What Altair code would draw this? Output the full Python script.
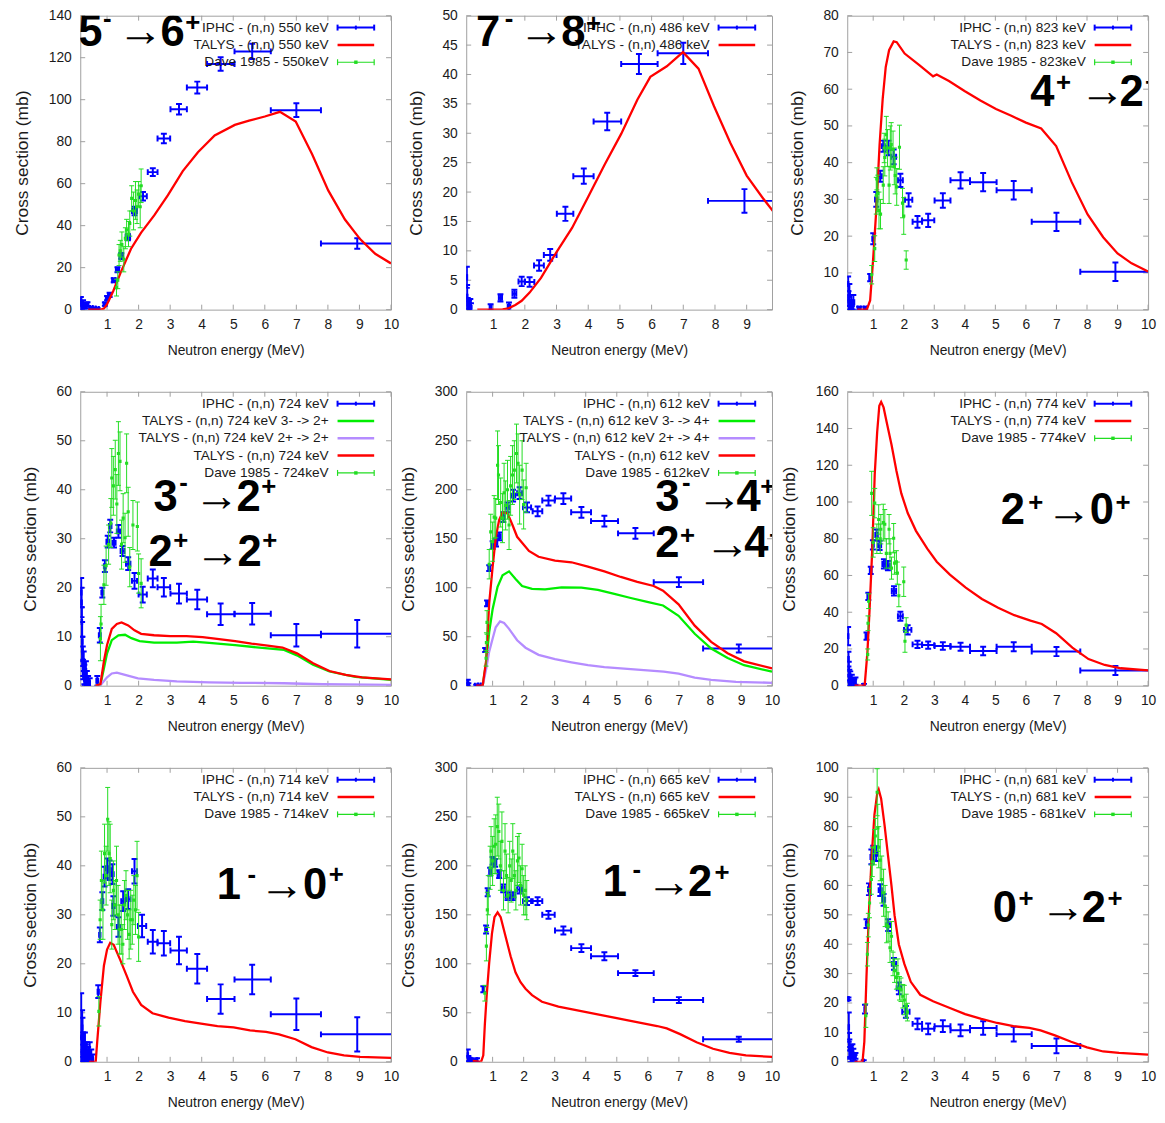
import altair as alt
import pandas as pd

FONT = "Liberation Sans"
BLUE = "#0000ff"
RED = "#ff0000"
GREEN = "#00ee00"
DGREEN = "#22dd22"
PURPLE = "#b58cff"
BORDER = "#a0a0a0"
TXT = "#1a1a1a"

# ---------------- common wide IPHC energy bins ----------------
HI_X = [2.45, 2.8, 3.28, 3.86, 4.6, 5.6, 7.0, 8.93]
HI_LO = [2.29, 2.6, 3.01, 3.53, 4.17, 5.04, 6.19, 7.78]
HI_HI = [2.6, 3.0, 3.53, 4.17, 5.04, 6.19, 7.78, 10.3]

# ---------------- Panel 1 : 550 keV ----------------
P1_LO_X = [0.17, 0.2, 0.24, 0.28, 0.33, 0.38, 0.5, 0.6, 0.7, 0.93, 1.0, 1.08, 1.21, 1.33, 1.45, 1.66, 1.87, 2.14]
P1_LO_Y = [4, 1.5, 3, 2, 1.5, 2.5, 0.8, 0.5, 0.3, 2.6, 5.5, 7, 14, 19, 25.5, 34.5, 47, 54]
P1_LO_XE = [0.02, 0.02, 0.02, 0.02, 0.02, 0.03, 0.04, 0.04, 0.04, 0.04, 0.04, 0.05, 0.05, 0.05, 0.06, 0.07, 0.08, 0.12]
P1_LO_YE = [2, 1.5, 1.5, 1.2, 1, 1, 0.5, 0.5, 0.5, 0.8, 1, 1, 1, 1.2, 1.5, 1.5, 2, 2]
P1_HI_Y = [65.5, 81.5, 95.4, 105.8, 117, 123, 95, 31.5]
P1_HI_YE = [1.8, 2.3, 2.5, 2.8, 3.2, 3.6, 3.3, 2.5]
P1_D_X = [1.3, 1.34, 1.38, 1.42, 1.47, 1.53, 1.58, 1.62, 1.68, 1.72, 1.78, 1.84, 1.9, 1.95, 2.0, 2.05, 2.08]
P1_D_Y = [10.5, 14, 26, 28, 31, 24, 34, 38, 36, 41, 53, 47, 52, 49, 55, 49, 59]
P1_D_E = [4, 4, 5, 5, 6, 6, 5, 5, 6, 6, 6, 9, 9, 8, 6, 10, 8]
P1_T_X = [0.4, 0.6, 0.8, 0.9, 1.0, 1.2, 1.44, 1.76, 2.08, 2.5, 2.93, 3.4, 3.88, 4.41, 5.05, 5.5, 6.0, 6.48, 6.98, 7.5, 8.01, 8.54, 9.02, 9.5, 10.0]
P1_T_Y = [0, 0, 0, 0.5, 2.6, 9, 18, 29, 36.7, 45, 54.5, 66, 75, 83, 88, 90, 92, 94.2, 89.6, 74, 56.8, 42.9, 33.6, 26.6, 22]

# ---------------- Panel 2 : 486 keV ----------------
P2_LO_X = [0.17, 0.18, 0.2, 0.24, 0.28, 0.3, 0.92, 1.23, 1.5, 1.67, 1.9, 2.15]
P2_LO_Y = [5.5, 2.2, 1, 0.5, 0.8, 0.3, 0.4, 2, 0.5, 2.7, 4.8, 4.7]
P2_LO_XE = [0.01, 0.01, 0.02, 0.02, 0.02, 0.02, 0.03, 0.05, 0.04, 0.06, 0.1, 0.15]
P2_LO_YE = [1.8, 2, 1, 1, 1, 0.8, 0.5, 0.6, 0.7, 0.7, 0.8, 0.8]
P2_HI_Y = [7.5, 9.3, 16.3, 22.7, 32, 41.8, 43.6, 18.5]
P2_HI_YE = [0.9, 1.0, 1.2, 1.3, 1.5, 1.7, 1.8, 2.0]
P2_T_X = [0.5, 1.0, 1.3, 1.48, 1.7, 1.9, 2.15, 2.51, 3.0, 3.49, 4.0, 4.52, 5.04, 5.55, 5.96, 6.48, 6.99, 7.48, 7.97, 8.49, 9.0, 9.52, 10.0]
P2_T_Y = [0, 0, 0.05, 0.2, 0.8, 1.5, 2.9, 5.4, 9.8, 13.9, 19.2, 24.7, 29.9, 35.7, 39.6, 41.4, 43.8, 41, 34.6, 28.3, 22.8, 18.9, 15.6]

# ---------------- Panel 3 : 823 keV ----------------
P3_LO_X = [0.18, 0.19, 0.2, 0.22, 0.25, 0.28, 0.3, 0.35, 0.54, 0.74, 0.9, 1.0, 1.1, 1.23, 1.33, 1.5, 1.67, 1.89, 2.16]
P3_LO_Y = [7, 3, 2, 4, 1, 2, 0.5, 2, 0.3, 0.3, 8.7, 19.3, 30, 36.3, 44.5, 44, 41.6, 35.2, 29.9]
P3_LO_XE = [0.01, 0.01, 0.01, 0.02, 0.02, 0.02, 0.02, 0.03, 0.05, 0.05, 0.03, 0.03, 0.04, 0.05, 0.05, 0.07, 0.08, 0.08, 0.12]
P3_LO_YE = [2, 2, 2, 3, 1, 2, 0.5, 2, 0.5, 0.5, 1, 1.5, 2, 1.5, 1.5, 2, 2, 1.8, 1.8]
P3_HI_Y = [23.9, 24.3, 29.7, 35.2, 34.7, 32.5, 23.9, 10.3]
P3_HI_YE = [1.6, 1.8, 2, 2.2, 2.5, 2.5, 2.5, 2.5]
P3_D_X = [0.95, 1.05, 1.1, 1.12, 1.15, 1.19, 1.24, 1.33, 1.36, 1.38, 1.43, 1.47, 1.52, 1.56, 1.59, 1.65, 1.69, 1.72, 1.77, 1.86, 1.96, 2.0, 2.08]
P3_D_Y = [9.5, 16.6, 31, 35.6, 31.6, 27, 26, 33.9, 44, 41.4, 47.6, 44, 33.9, 44, 44.9, 43.6, 39, 36.5, 33.4, 44.2, 29, 25.5, 13.5]
P3_D_E = [2.5, 3.5, 5, 3, 5, 5, 4, 5, 4, 5, 5, 5, 5, 6, 6, 5, 5, 5, 5, 6, 4, 5, 2.5]
P3_T_X = [0.48, 0.79, 0.9, 1.0, 1.1, 1.21, 1.31, 1.41, 1.52, 1.67, 1.77, 2.03, 2.5, 2.96, 3.08, 3.48, 3.99, 4.51, 5.02, 5.54, 6.0, 6.5, 6.99, 7.5, 8.02, 8.53, 9.0, 9.46, 10.0]
P3_T_Y = [0, 0, 2.5, 14, 27, 45, 57.3, 66, 70.6, 73, 72.8, 69.7, 66.6, 63.5, 64, 62.2, 59.5, 56.9, 54.6, 52.7, 50.9, 49.3, 44.5, 34.7, 25.9, 19.7, 15.3, 12.6, 10.4]

# ---------------- Panel 4 : 724 keV ----------------
P4_LO_X = [0.18, 0.19, 0.2, 0.21, 0.22, 0.23, 0.24, 0.26, 0.28, 0.3, 0.33, 0.36, 0.4, 0.45, 0.69, 0.77, 0.85, 0.93, 1.02, 1.1, 1.22, 1.36, 1.49, 1.67, 1.87, 2.13]
P4_LO_Y = [19, 17, 13, 9, 7, 5, 3.3, 5, 2.3, 1, 3, 1.5, 1, 0.5, 1, 10.3, 19, 24.4, 29.4, 32.6, 29.2, 31.5, 27.5, 24.9, 21.4, 18.6]
P4_LO_XE = [0.01, 0.01, 0.01, 0.01, 0.01, 0.01, 0.01, 0.01, 0.01, 0.01, 0.01, 0.01, 0.01, 0.01, 0.03, 0.03, 0.03, 0.03, 0.04, 0.04, 0.05, 0.05, 0.06, 0.07, 0.08, 0.13]
P4_LO_YE = [3, 3, 3, 4, 3, 3, 2, 2, 2, 1, 2, 1.5, 1, 1, 1, 1.5, 1, 1.2, 1.2, 1.3, 1, 1.3, 1, 1.3, 1.6, 1.6]
P4_HI_Y = [21.9, 20.1, 18.8, 17.6, 14.6, 14.7, 10.3, 10.6]
P4_HI_YE = [1.8, 1.9, 2, 2, 2.2, 2.2, 2.3, 2.8]
P4_D_X = [0.79, 0.81, 0.9, 0.97, 1.05, 1.12, 1.15, 1.2, 1.26, 1.31, 1.36, 1.41, 1.46, 1.51, 1.57, 1.62, 1.67, 1.72, 1.82, 1.96, 2.0, 2.08]
P4_D_Y = [9.6, 12.6, 20.6, 24.5, 28.8, 33.2, 42.4, 40.8, 44.1, 37.1, 47.4, 45.8, 28.8, 34.2, 30.2, 45.4, 35.5, 24.2, 32.8, 32.5, 22.9, 20.9]
P4_D_E = [4.5, 4, 4, 4, 4, 5, 6, 6, 6, 6, 6.5, 6, 5, 5, 5, 6, 5, 4, 5, 5, 4, 5]
P4_T_X = [0.64, 0.79, 0.9, 1.0, 1.15, 1.31, 1.46, 1.67, 1.87, 2.08, 2.49, 3.0, 3.52, 4.03, 4.55, 5.06, 5.58, 6.09, 6.56, 7.02, 7.53, 8.05, 8.56, 9.08, 10.0]
P4_T_Y = [0, 0.3, 5, 8.3, 11.6, 12.6, 12.9, 12.3, 11.3, 10.6, 10.3, 10.1, 10.1, 9.9, 9.5, 9.1, 8.6, 8.2, 7.8, 6.6, 4.6, 3.0, 2.2, 1.7, 1.3]
P4_G_X = [0.64, 0.79, 0.9, 1.0, 1.15, 1.36, 1.57, 1.77, 2.03, 2.49, 3.21, 3.73, 4.24, 5.06, 6.09, 6.61, 7.02, 7.53, 8.05, 8.87, 10.0]
P4_G_Y = [0, 0.2, 3.5, 6.6, 9.3, 10.3, 10.4, 9.7, 9.1, 8.8, 8.8, 9.0, 8.75, 8.3, 7.6, 7.3, 6.2, 4.3, 2.9, 1.8, 1.2]
P4_P_X = [0.64, 0.79, 1.0, 1.15, 1.31, 1.57, 1.98, 2.49, 3.21, 4.24, 5.27, 6.61, 7.84, 10.0]
P4_P_Y = [0, 0.1, 1.7, 2.5, 2.65, 2.2, 1.5, 1.2, 0.9, 0.7, 0.6, 0.5, 0.3, 0.15]

# ---------------- Panel 5 : 612 keV ----------------
P5_LO_X = [0.2, 0.22, 0.47, 0.58, 0.76, 0.82, 0.89, 1.0, 1.11, 1.21, 1.34, 1.48, 1.66, 1.87, 2.11]
P5_LO_Y = [3, 0.5, 0, 0.3, 36.5, 84, 120, 143.5, 146, 152.5, 172, 182, 194, 196.5, 182]
P5_LO_XE = [0.02, 0.02, 0.04, 0.04, 0.03, 0.03, 0.03, 0.04, 0.04, 0.05, 0.05, 0.06, 0.07, 0.08, 0.13]
P5_LO_YE = [3, 2, 1, 1, 2, 3, 3, 4, 4, 4, 5, 5, 6, 6, 5]
P5_HI_Y = [178, 189, 191, 177, 168, 155.5, 105.7, 38]
P5_HI_YE = [5, 5, 5.5, 5.5, 5.5, 5.5, 5, 4]
P5_D_X = [0.79, 0.8, 0.82, 0.89, 0.94, 1.0, 1.05, 1.1, 1.16, 1.19, 1.26, 1.32, 1.37, 1.42, 1.48, 1.53, 1.58, 1.64, 1.7, 1.77, 1.82, 1.87, 1.95, 2.0, 2.08]
P5_D_Y = [28, 44, 64.6, 124, 157, 147, 172, 171, 225, 215, 187, 171, 197, 184, 200, 164, 204, 215, 220, 237, 227, 195, 220, 185, 202]
P5_D_E = [8, 10, 12, 15, 18, 20, 22, 20, 35, 30, 25, 25, 30, 25, 30, 25, 30, 30, 30, 30, 30, 30, 30, 25, 25]
P5_T_X = [0.47, 0.68, 0.79, 0.89, 1.0, 1.1, 1.21, 1.32, 1.48, 1.64, 1.79, 1.95, 2.17, 2.48, 3.01, 3.54, 4.07, 4.6, 5.13, 5.66, 6.19, 6.49, 6.99, 7.51, 8.04, 8.57, 9.1, 10.0]
P5_T_Y = [0, 0, 25, 84, 121, 151, 169, 177, 176, 164, 152, 146, 137.5, 131.6, 127.6, 126, 121.6, 116.7, 111, 106, 101.8, 97, 83, 61.3, 44.7, 33.1, 24.9, 17.6]
P5_G_X = [0.68, 0.79, 0.89, 1.0, 1.16, 1.32, 1.53, 1.74, 1.95, 2.27, 2.69, 3.22, 3.86, 4.39, 4.92, 5.45, 5.98, 6.49, 6.99, 7.51, 8.04, 8.57, 9.1, 10.0]
P5_G_Y = [0, 23, 54.7, 78, 101, 112.7, 116.7, 109, 101.8, 98.8, 98.4, 100.4, 100, 97.8, 93.8, 89.5, 85.5, 81.9, 71.3, 53, 38, 28.2, 20.9, 14.3]
P5_P_X = [0.68, 0.79, 0.89, 1.0, 1.1, 1.24, 1.37, 1.53, 1.79, 2.06, 2.48, 3.01, 3.54, 4.07, 4.6, 5.13, 5.98, 6.51, 6.99, 7.51, 8.04, 8.84, 10.0]
P5_P_Y = [0, 16.6, 34.8, 48, 59.7, 65.6, 64, 58, 46.4, 38.8, 31.5, 27.2, 23.9, 20.9, 18.9, 17.6, 15.6, 14.3, 12.3, 8.3, 6, 4, 3]

# ---------------- Panel 6 : 774 keV ----------------
P6_LO_X = [0.18, 0.19, 0.2, 0.21, 0.22, 0.23, 0.25, 0.28, 0.3, 0.38, 0.42, 0.7, 0.78, 0.84, 0.92, 0.99, 1.11, 1.21, 1.35, 1.48, 1.68, 1.89, 2.13]
P6_LO_Y = [27, 14.5, 9, 3, 5.7, 1, 4.8, 2, 3, 1.5, 2.5, 0, 27, 48.6, 62.8, 76.7, 82, 76.4, 66.3, 65.4, 51.6, 37.8, 30.4]
P6_LO_XE = [0.01, 0.01, 0.01, 0.01, 0.01, 0.01, 0.01, 0.01, 0.01, 0.01, 0.01, 0.03, 0.03, 0.03, 0.03, 0.03, 0.04, 0.05, 0.05, 0.06, 0.07, 0.08, 0.12]
P6_LO_YE = [5, 4, 4, 3, 3, 2, 3, 2, 3, 2, 2, 1, 2, 2, 2, 2.5, 3, 2.5, 2.5, 2.5, 2.5, 2.5, 2.5]
P6_HI_Y = [22.5, 22.1, 21.6, 21.2, 18.9, 21.2, 18.6, 8.3]
P6_HI_YE = [2, 2, 2, 2.2, 2.3, 2.5, 2.5, 2.5]
P6_D_X = [0.82, 0.83, 0.85, 0.95, 1.0, 1.05, 1.12, 1.18, 1.23, 1.25, 1.33, 1.38, 1.43, 1.52, 1.55, 1.6, 1.67, 1.7, 1.76, 1.79, 1.84, 2.0, 2.04, 2.08]
P6_D_Y = [17, 34, 46, 104.7, 78, 99.4, 80, 90.5, 80, 85.2, 88.8, 87.9, 72, 85.2, 72, 64, 80.3, 66.7, 67.5, 61.3, 49, 56.6, 24.2, 33]
P6_D_E = [3, 4, 4, 12, 8, 8, 8, 8, 8, 8, 10, 8, 8, 8, 8, 6, 8, 6, 6, 6, 6, 8, 6, 4]
P6_T_X = [0.39, 0.65, 0.72, 0.81, 0.88, 0.97, 1.05, 1.13, 1.2, 1.26, 1.34, 1.44, 1.6, 1.76, 1.92, 2.13, 2.4, 2.77, 3.08, 3.51, 4.03, 4.56, 5.09, 5.62, 6.15, 6.52, 6.99, 7.52, 8.05, 8.58, 9.11, 10.0]
P6_T_Y = [0, 0, 0, 18, 41, 74.6, 115, 138, 152.4, 154.5, 151.5, 143.6, 131.2, 117, 104.7, 94, 84.3, 74.6, 67.5, 60.5, 53.4, 47.2, 42.4, 38.4, 35.4, 33.6, 28.6, 20.7, 14.5, 11.3, 9.5, 8.3]

# ---------------- Panel 7 : 714 keV ----------------
P7_LO_X = [0.18, 0.2, 0.21, 0.22, 0.23, 0.25, 0.27, 0.3, 0.33, 0.36, 0.4, 0.45, 0.5, 0.55, 0.72, 0.77, 0.85, 0.92, 1.0, 1.08, 1.17, 1.2, 1.36, 1.51, 1.67, 1.87, 2.11]
P7_LO_Y = [5, 2, 7, 5, 3, 4, 2, 3, 1.5, 2, 1, 2, 1, 0.5, 14.3, 25.9, 32.8, 37.8, 39.5, 39.1, 38.3, 31.8, 27.5, 32.8, 33.2, 38.9, 27.7]
P7_LO_XE = [0.01, 0.01, 0.01, 0.01, 0.01, 0.01, 0.01, 0.01, 0.01, 0.01, 0.01, 0.01, 0.01, 0.01, 0.02, 0.02, 0.03, 0.03, 0.04, 0.04, 0.04, 0.04, 0.05, 0.06, 0.07, 0.08, 0.13]
P7_LO_YE = [9, 3, 3.5, 4, 3, 2, 2, 3, 2, 2, 2, 2, 1.5, 1, 1.3, 1.5, 1.8, 2, 2, 2, 2, 2, 2, 2, 2, 2.5, 2.3]
P7_HI_Y = [24.5, 24.2, 22.7, 19, 12.8, 16.8, 9.7, 5.6]
P7_HI_YE = [2.4, 2.5, 2.8, 3, 3, 3, 3.2, 3.5]
P7_D_X = [0.74, 0.78, 0.82, 0.87, 0.92, 0.97, 1.02, 1.06, 1.1, 1.15, 1.2, 1.25, 1.3, 1.35, 1.4, 1.45, 1.5, 1.55, 1.6, 1.65, 1.7, 1.75, 1.8, 1.85, 1.9, 1.95, 2.0]
P7_D_Y = [10.3, 29, 37, 31, 42.5, 38, 49.5, 42.5, 41.5, 28, 35, 32, 37, 30, 27, 27, 24, 32, 34, 30, 26, 29, 29, 33, 31, 38, 25.5]
P7_D_E = [3, 4, 6, 6, 6, 6, 6.5, 6.5, 7, 5, 6, 5, 7, 6, 5, 5, 4, 5, 5, 5, 5, 6, 5, 5, 5, 7, 5]
P7_T_X = [0.43, 0.64, 0.69, 0.79, 0.9, 1.0, 1.1, 1.21, 1.41, 1.62, 1.82, 2.08, 2.44, 2.95, 3.47, 3.98, 4.5, 5.01, 5.53, 6.04, 6.45, 6.97, 7.48, 8.0, 8.51, 9.02, 10.0]
P7_T_Y = [0, 0, 4.3, 12.3, 19.6, 22.9, 24.3, 23.9, 20.9, 17.6, 14.3, 11.6, 9.9, 9.0, 8.3, 7.8, 7.3, 7.0, 6.4, 6.1, 5.6, 4.6, 3.0, 1.9, 1.3, 1.0, 0.8]

# ---------------- Panel 8 : 665 keV ----------------
P8_LO_X = [0.2, 0.22, 0.25, 0.3, 0.36, 0.44, 0.5, 0.7, 0.79, 0.84, 0.92, 1.0, 1.08, 1.21, 1.34, 1.48, 1.66, 1.87, 2.11]
P8_LO_Y = [6.6, 3, 2, 1.7, 1, 0, 1.7, 74, 135, 173, 194, 205, 203, 191.6, 177, 169, 169, 175.7, 164]
P8_LO_XE = [0.01, 0.01, 0.01, 0.01, 0.01, 0.01, 0.01, 0.02, 0.03, 0.03, 0.03, 0.04, 0.04, 0.05, 0.05, 0.06, 0.07, 0.08, 0.13]
P8_LO_YE = [6, 3, 2, 2, 1, 1, 2, 3, 4, 4, 4, 4, 4, 4, 4, 4, 4, 4, 4]
P8_HI_Y = [164, 150, 134, 116, 107.7, 90.5, 63, 23]
P8_HI_YE = [4, 4, 4, 4, 4, 3, 3, 2.5]
P8_D_X = [0.75, 0.8, 0.83, 0.86, 0.92, 0.95, 1.0, 1.05, 1.1, 1.15, 1.2, 1.25, 1.3, 1.35, 1.4, 1.45, 1.5, 1.55, 1.6, 1.65, 1.7, 1.75, 1.8, 1.85, 1.9, 1.95, 2.0, 2.05, 2.1]
P8_D_Y = [70, 118, 155, 170, 198, 215, 205, 220, 222, 240, 235, 200, 225, 175, 215, 190, 170, 200, 185, 215, 190, 175, 205, 208, 180, 197, 170, 175, 165]
P8_D_E = [8, 15, 18, 20, 22, 25, 25, 28, 30, 30, 28, 25, 30, 20, 28, 22, 18, 25, 22, 28, 22, 20, 25, 25, 20, 25, 20, 25, 20]
P8_T_X = [0.36, 0.63, 0.7, 0.75, 0.81, 0.89, 0.98, 1.06, 1.16, 1.26, 1.42, 1.58, 1.74, 1.9, 2.06, 2.27, 2.59, 3.12, 3.65, 4.18, 4.71, 5.24, 5.77, 6.3, 6.61, 7.04, 7.57, 8.1, 8.63, 9.16, 10.0]
P8_T_Y = [1, 0, 6.6, 38, 68, 101, 131, 147.5, 152.5, 147.5, 127.6, 107.7, 91, 81.2, 74.6, 68, 61.3, 56.3, 53, 49.7, 46.4, 43.1, 39.8, 36.5, 34.1, 28.2, 19.9, 13.3, 9, 6.6, 5]

# ---------------- Panel 9 : 681 keV ----------------
P9_LO_X = [0.19, 0.2, 0.21, 0.22, 0.24, 0.26, 0.28, 0.32, 0.35, 0.39, 0.42, 0.69, 0.73, 0.78, 0.86, 0.94, 1.0, 1.1, 1.23, 1.34, 1.49, 1.68, 1.84, 2.07]
P9_LO_Y = [21.4, 11.8, 6.8, 4.6, 3, 1.9, 3.5, 4, 2.4, 1.3, 2, 0, 17.9, 47, 58.7, 69.7, 71, 70.8, 58.4, 55.1, 46.5, 33.3, 25, 17]
P9_LO_XE = [0.01, 0.01, 0.01, 0.01, 0.01, 0.01, 0.01, 0.01, 0.01, 0.01, 0.01, 0.01, 0.02, 0.02, 0.03, 0.03, 0.03, 0.04, 0.05, 0.05, 0.06, 0.07, 0.07, 0.12]
P9_LO_YE = [0.5, 5, 3, 3, 2, 2, 2, 2, 2, 1, 1, 0.5, 1.5, 1.5, 2, 2.5, 2.5, 2.5, 2, 2, 2, 2, 2, 2]
P9_HI_Y = [12.9, 11.2, 12.1, 10.7, 11.5, 9.4, 5.4]
P9_HI_YE = [1.8, 1.8, 2, 2, 2.3, 2.5, 2.5]
P9_D_X = [0.76, 0.81, 0.84, 0.88, 0.94, 0.97, 1.04, 1.07, 1.13, 1.15, 1.18, 1.23, 1.28, 1.34, 1.39, 1.44, 1.49, 1.55, 1.6, 1.65, 1.7, 1.76, 1.81, 1.86, 1.91, 1.97, 2.02, 2.08, 2.12]
P9_D_Y = [15.7, 36.6, 46.5, 54, 62, 68, 73, 76.8, 91.7, 79.6, 73, 68.6, 62, 57.5, 53, 46.5, 46, 38.8, 42.7, 33.3, 31, 28.7, 30, 25, 24.5, 22.3, 21, 19, 16.9]
P9_D_E = [4, 4, 4, 5, 5, 5, 6, 6, 8, 8, 7, 7, 8, 8, 7, 6, 5, 5, 5, 4, 4, 4, 5, 4, 4, 4, 5, 4, 3]
P9_T_X = [0.39, 0.65, 0.71, 0.78, 0.86, 0.95, 1.04, 1.13, 1.18, 1.26, 1.37, 1.49, 1.6, 1.7, 1.84, 2.02, 2.23, 2.54, 2.96, 3.49, 4.01, 4.54, 5.06, 5.59, 6.11, 6.48, 6.95, 7.48, 8.0, 8.53, 9.05, 10.0]
P9_T_Y = [0, 0, 6.8, 28.9, 50.9, 69.7, 84, 91.2, 92.6, 89.5, 80.7, 69.7, 59.8, 49.8, 39.9, 33.3, 27.2, 22.8, 20.6, 18.4, 16.2, 14.6, 13.2, 12.1, 11.5, 10.7, 9.0, 6.8, 4.9, 3.5, 3.0, 2.4]

ONE = pd.DataFrame({"k": [0]})
H = 297


def iphc_layers(lo_x, lo_y, lo_xe, lo_ye, hi_y, hi_ye, X, Y):
    n = len(hi_y)
    x = lo_x + HI_X[:n]
    y = lo_y + hi_y
    xlo = [a - b for a, b in zip(lo_x, lo_xe)] + HI_LO[:n]
    xhi = [a + b for a, b in zip(lo_x, lo_xe)] + HI_HI[:n]
    ye = lo_ye + hi_ye
    df = pd.DataFrame({"x": x, "y": y, "xlo": xlo, "xhi": xhi,
                       "ylo": [a - b for a, b in zip(y, ye)],
                       "yhi": [a + b for a, b in zip(y, ye)]})
    b = alt.Chart(df)
    rk = dict(color=BLUE, strokeWidth=2, clip=True)
    return [
        b.mark_rule(**rk).encode(x=X("xlo"), x2=alt.X2("xhi"), y=Y("y")),
        b.mark_rule(**rk).encode(x=X("x"), y=Y("ylo"), y2=alt.Y2("yhi")),
        b.mark_rule(yOffset=-3, y2Offset=3, **rk).encode(x=X("xlo"), y=Y("y"), y2=alt.Y2("y")),
        b.mark_rule(yOffset=-3, y2Offset=3, **rk).encode(x=X("xhi"), y=Y("y"), y2=alt.Y2("y")),
        b.mark_rule(xOffset=-3, x2Offset=3, **rk).encode(x=X("x"), x2=alt.X2("x"), y=Y("ylo")),
        b.mark_rule(xOffset=-3, x2Offset=3, **rk).encode(x=X("x"), x2=alt.X2("x"), y=Y("yhi")),
    ]


def dave_layers(dx, dy, de, X, Y):
    df = pd.DataFrame({"x": dx, "y": dy,
                       "ylo": [a - b for a, b in zip(dy, de)],
                       "yhi": [a + b for a, b in zip(dy, de)]})
    b = alt.Chart(df)
    rk = dict(color=DGREEN, strokeWidth=1, clip=True)
    return [
        b.mark_rule(**rk).encode(x=X("x"), y=Y("ylo"), y2=alt.Y2("yhi")),
        b.mark_rule(xOffset=-2.5, x2Offset=2.5, **rk).encode(x=X("x"), x2=alt.X2("x"), y=Y("ylo")),
        b.mark_rule(xOffset=-2.5, x2Offset=2.5, **rk).encode(x=X("x"), x2=alt.X2("x"), y=Y("yhi")),
        b.mark_square(size=10, color=DGREEN, opacity=1, clip=True).encode(x=X("x"), y=Y("y")),
    ]


def curve_layer(cx, cy, color, X, Y):
    df = pd.DataFrame({"x": cx, "y": cy})
    return alt.Chart(df).mark_line(color=color, strokeWidth=2.3, clip=True).encode(x=X("x"), y=Y("y"))


def legend_layers(entries, W):
    out = []
    for i, (label, kind) in enumerate(entries):
        yy = 12 + 17.5 * i
        out.append(alt.Chart(ONE).mark_text(text=label, font=FONT, fontSize=13.8, color=TXT,
                                            align="right", baseline="middle", clip=True)
                   .encode(x=alt.value(W - 63), y=alt.value(yy)))
        x1, x2 = W - 54, W - 17
        xm = (x1 + x2) / 2
        if kind == "iphc":
            rk = dict(color=BLUE, strokeWidth=2)
            out.append(alt.Chart(ONE).mark_rule(**rk).encode(x=alt.value(x1), x2=alt.value(x2), y=alt.value(yy)))
            for xx, hh in ((x1, 3), (x2, 3), (xm, 2)):
                out.append(alt.Chart(ONE).mark_rule(**rk).encode(x=alt.value(xx), y=alt.value(yy - hh), y2=alt.value(yy + hh)))
        elif kind == "dave":
            rk = dict(color=DGREEN, strokeWidth=1.2)
            out.append(alt.Chart(ONE).mark_rule(**rk).encode(x=alt.value(x1), x2=alt.value(x2), y=alt.value(yy)))
            for xx in (x1, x2):
                out.append(alt.Chart(ONE).mark_rule(**rk).encode(x=alt.value(xx), y=alt.value(yy - 3), y2=alt.value(yy + 3)))
            out.append(alt.Chart(ONE).mark_square(size=12, color=DGREEN, opacity=1).encode(x=alt.value(xm), y=alt.value(yy)))
        else:
            col = {"red": RED, "green": GREEN, "purple": PURPLE}[kind]
            out.append(alt.Chart(ONE).mark_rule(color=col, strokeWidth=2.5).encode(x=alt.value(x1), x2=alt.value(x2), y=alt.value(yy)))
    return out


def annot_layers(pieces, offset):
    dx, dy = offset
    out = []
    for txt, px, py, kind in pieces:
        if kind == "big":
            size, weight = 44, "bold"
        elif kind == "sup":
            size, weight = 26, "bold"
        else:
            size, weight = 46, "normal"
        out.append(alt.Chart(ONE).mark_text(text=txt, font=FONT, fontSize=size, fontWeight=weight,
                                            color="black", align="left", baseline="alphabetic", clip=True)
                   .encode(x=alt.value(px + dx), y=alt.value(py + dy)))
    return out


def panel(W, xdom, xvals, ydom, ystep, iphc, curves, dave, legend, annot, offset):
    xs = alt.Scale(domain=xdom, nice=False, zero=False)
    ys = alt.Scale(domain=ydom, nice=False, zero=False)
    yvals = list(range(ydom[0], ydom[1] + ystep, ystep))
    xaxis = alt.Axis(values=xvals, title="Neutron energy (MeV)", format="d", labelFlush=False, labelOverlap=False)
    yaxis = alt.Axis(values=yvals, title="Cross section (mb)", format="d", labelOverlap=False)
    X = lambda f: alt.X(f, type="quantitative", scale=xs, axis=xaxis)
    Y = lambda f: alt.Y(f, type="quantitative", scale=ys, axis=yaxis)
    ydf = pd.DataFrame({"v": yvals})
    xdf = pd.DataFrame({"v": xvals})
    tk = dict(color=BORDER, strokeWidth=1)
    layers = [
        alt.Chart(ydf).mark_rule(**tk).encode(y=Y("v"), x=alt.value(0), x2=alt.value(5)),
        alt.Chart(ydf).mark_rule(**tk).encode(y=Y("v"), x=alt.value(W - 5), x2=alt.value(W)),
        alt.Chart(xdf).mark_rule(**tk).encode(x=X("v"), y=alt.value(H), y2=alt.value(H - 5)),
        alt.Chart(xdf).mark_rule(**tk).encode(x=X("v"), y=alt.value(0), y2=alt.value(5)),
    ]
    layers += iphc_layers(*iphc, X, Y)
    for cx, cy, col in curves:
        layers.append(curve_layer(cx, cy, col, X, Y))
    if dave is not None:
        layers += dave_layers(*dave, X, Y)
    layers += legend_layers(legend, W)
    layers += annot_layers(annot, offset)
    return alt.layer(*layers).properties(width=W, height=H)


XV10 = [1, 2, 3, 4, 5, 6, 7, 8, 9, 10]
XV9 = [1, 2, 3, 4, 5, 6, 7, 8, 9]
W1, W2, W3 = 314, 309, 304

p1 = panel(W1, [0.15, 10], XV10, [0, 140], 20,
           (P1_LO_X, P1_LO_Y, P1_LO_XE, P1_LO_YE, P1_HI_Y, P1_HI_YE),
           [(P1_T_X, P1_T_Y, RED)], (P1_D_X, P1_D_Y, P1_D_E),
           [("IPHC - (n,n) 550 keV", "iphc"), ("TALYS - (n,n) 550 keV", "red"), ("Dave 1985 - 550keV", "dave")],
           [("5", -3, 33, "big"), ("-", 22, 13, "sup"), ("→", 37, 33, "arr"), ("6", 80, 33, "big"), ("+", 105, 17.5, "sup")],
           (1, -2))

p2 = panel(W2, [0.15, 9.8], XV9, [0, 50], 5,
           (P2_LO_X, P2_LO_Y, P2_LO_XE, P2_LO_YE, P2_HI_Y, P2_HI_YE),
           [(P2_T_X, P2_T_Y, RED)], None,
           [("IPHC - (n,n) 486 keV", "iphc"), ("TALYS - (n,n) 486 keV", "red")],
           [("7", 3, 33, "big"), ("-", 32, 13, "sup"), ("→", 46, 33, "arr"), ("8", 89, 33, "big"), ("+", 114, 18.5, "sup")],
           (7, -2))

p3 = panel(W3, [0.15, 10], XV10, [0, 80], 10,
           (P3_LO_X, P3_LO_Y, P3_LO_XE, P3_LO_YE, P3_HI_Y, P3_HI_YE),
           [(P3_T_X, P3_T_Y, RED)], (P3_D_X, P3_D_Y, P3_D_E),
           [("IPHC - (n,n) 823 keV", "iphc"), ("TALYS - (n,n) 823 keV", "red"), ("Dave 1985 - 823keV", "dave")],
           [("4", 186, 89, "big"), ("+", 212, 74.5, "sup"), ("→", 236, 89, "arr"), ("2", 276, 89, "big"), ("+", 302, 74.5, "sup")],
           (-1, 2))

p4 = panel(W1, [0.15, 10], XV10, [0, 60], 10,
           (P4_LO_X, P4_LO_Y, P4_LO_XE, P4_LO_YE, P4_HI_Y, P4_HI_YE),
           [(P4_G_X, P4_G_Y, GREEN), (P4_P_X, P4_P_Y, PURPLE), (P4_T_X, P4_T_Y, RED)], (P4_D_X, P4_D_Y, P4_D_E),
           [("IPHC - (n,n) 724 keV", "iphc"), ("TALYS - (n,n) 724 keV 3- -> 2+", "green"),
            ("TALYS - (n,n) 724 keV 2+ -> 2+", "purple"), ("TALYS - (n,n) 724 keV", "red"), ("Dave 1985 - 724keV", "dave")],
           [("3", 84, 120, "big"), ("-", 110, 100, "sup"), ("→", 125, 120, "arr"), ("2", 168, 120, "big"), ("+", 193, 104, "sup"),
            ("2", 79, 176, "big"), ("+", 104, 159, "sup"), ("→", 126, 177, "arr"), ("2", 169, 176, "big"), ("+", 194, 159, "sup")],
           (-10, 0))

p5 = panel(W2, [0.15, 10], XV10, [0, 300], 50,
           (P5_LO_X, P5_LO_Y, P5_LO_XE, P5_LO_YE, P5_HI_Y, P5_HI_YE),
           [(P5_G_X, P5_G_Y, GREEN), (P5_P_X, P5_P_Y, PURPLE), (P5_T_X, P5_T_Y, RED)], (P5_D_X, P5_D_Y, P5_D_E),
           [("IPHC - (n,n) 612 keV", "iphc"), ("TALYS - (n,n) 612 keV 3- -> 4+", "green"),
            ("TALYS - (n,n) 612 keV 2+ -> 4+", "purple"), ("TALYS - (n,n) 612 keV", "red"), ("Dave 1985 - 612keV", "dave")],
           [("3", 190, 120, "big"), ("-", 217, 100, "sup"), ("→", 232, 120, "arr"), ("4", 272, 120, "big"), ("+", 296, 104.5, "sup"),
            ("2", 190, 167, "big"), ("+", 215, 154, "sup"), ("→", 240, 169, "arr"), ("4", 280, 167, "big"), ("+", 305, 154, "sup")],
           (1, 0))

p6 = panel(W3, [0.15, 10], XV10, [0, 160], 20,
           (P6_LO_X, P6_LO_Y, P6_LO_XE, P6_LO_YE, P6_HI_Y, P6_HI_YE),
           [(P6_T_X, P6_T_Y, RED)], (P6_D_X, P6_D_Y, P6_D_E),
           [("IPHC - (n,n) 774 keV", "iphc"), ("TALYS - (n,n) 774 keV", "red"), ("Dave 1985 - 774keV", "dave")],
           [("2", 148, 135, "big"), ("+", 176, 121, "sup"), ("→", 194, 136, "arr"), ("0", 238, 135, "big"), ("+", 264, 121, "sup")],
           (7, -1))

p7 = panel(W1, [0.15, 10], XV10, [0, 60], 10,
           (P7_LO_X, P7_LO_Y, P7_LO_XE, P7_LO_YE, P7_HI_Y, P7_HI_YE),
           [(P7_T_X, P7_T_Y, RED)], (P7_D_X, P7_D_Y, P7_D_E),
           [("IPHC - (n,n) 714 keV", "iphc"), ("TALYS - (n,n) 714 keV", "red"), ("Dave 1985 - 714keV", "dave")],
           [("1", 150, 131, "big"), ("-", 181, 114, "sup"), ("→", 193, 132, "arr"), ("0", 237, 131, "big"), ("+", 263, 114, "sup")],
           (-12, 2))

p8 = panel(W2, [0.15, 10], XV10, [0, 300], 50,
           (P8_LO_X, P8_LO_Y, P8_LO_XE, P8_LO_YE, P8_HI_Y, P8_HI_YE),
           [(P8_T_X, P8_T_Y, RED)], (P8_D_X, P8_D_Y, P8_D_E),
           [("IPHC - (n,n) 665 keV", "iphc"), ("TALYS - (n,n) 665 keV", "red"), ("Dave 1985 - 665keV", "dave")],
           [("1", 140, 127, "big"), ("-", 170, 109, "sup"), ("→", 184, 129, "arr"), ("2", 226, 127, "big"), ("+", 253, 112, "sup")],
           (-2, 2))

p9 = panel(W3, [0.15, 10], XV10, [0, 100], 10,
           (P9_LO_X, P9_LO_Y, P9_LO_XE, P9_LO_YE, P9_HI_Y, P9_HI_YE),
           [(P9_T_X, P9_T_Y, RED)], (P9_D_X, P9_D_Y, P9_D_E),
           [("IPHC - (n,n) 681 keV", "iphc"), ("TALYS - (n,n) 681 keV", "red"), ("Dave 1985 - 681keV", "dave")],
           [("0", 139, 156, "big"), ("+", 165, 141, "sup"), ("→", 187, 156, "arr"), ("2", 229, 156, "big"), ("+", 255, 141, "sup")],
           (8, 0))

chart = alt.concat(p1, p2, p3, p4, p5, p6, p7, p8, p9, columns=3,
                   spacing={"row": 83, "column": 76}, bounds="flush", align="each"
                   ).properties(padding={"left": 5, "top": -6, "right": 0, "bottom": 0}
                   ).configure_view(stroke=BORDER, strokeWidth=1
                   ).configure_axis(domain=False, ticks=False, grid=False,
                                    labelFont=FONT, labelFontSize=14, labelColor=TXT,
                                    titleFont=FONT, titleFontSize=14, titleFontWeight="normal", titleColor=TXT
                   ).configure_axisX(labelPadding=8, titlePadding=12
                   ).configure_axisY(labelPadding=9, titlePadding=17, titleFontSize=17.5)

chart.save("out.html", embed_options={"renderer": "svg", "actions": False})
